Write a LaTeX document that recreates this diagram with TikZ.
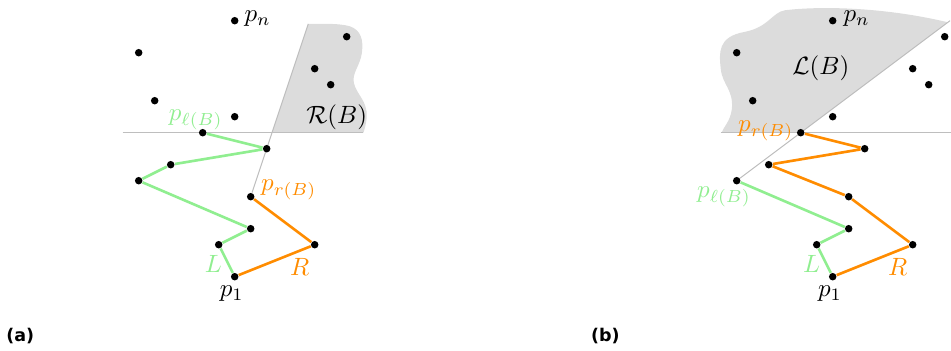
\documentclass[tikz,border=0pt]{standalone}
\usepackage{fontspec}
\newfontfamily\capfont{DejaVu Sans}
\usetikzlibrary{backgrounds}
\definecolor{lgreen}{RGB}{144,238,144}
\definecolor{dorange}{RGB}{255,140,0}
\definecolor{shadefill}{RGB}{220,220,220}
\definecolor{guidegray}{RGB}{190,190,190}
\begin{document}
\begin{tikzpicture}[x=0.4pt,y=-0.4pt,
  dot/.style={circle,fill=black,inner sep=0pt,minimum size=3pt},
  lchain/.style={draw=lgreen,line width=1.05pt,line join=round},
  rchain/.style={draw=dorange,line width=1.05pt,line join=round},
  guideline/.style={draw=guidegray,line width=0.4pt},
  region/.style={fill=shadefill},
  lbl/.style={inner sep=0pt,anchor=base west},
  lblc/.style={inner sep=0pt,anchor=base},
  caption/.style={inner sep=0pt,font=\capfont\bfseries\fontsize{7}{8}\selectfont}]
\useasboundingbox (0,0) rectangle (951,351);

% ---------------- (a) ----------------
\begin{scope}[shift={(138.7,20.7)},x=6.4pt,y=-6.4pt]
  \node[dot] (a1) at (6,16) {};
  \node[dot] (a2) at (5,14) {};
  \node[dot] (a3) at (7,13) {};
  \node[dot] (a4) at (0,10) {};
  \node[dot] (a5) at (2,9) {};
  \node[dot] (a6) at (8,8) {};
  \node[dot] (a7) at (4,7) {};
  \node[dot] (a8) at (6,6) {};
  \node[dot] (a9) at (1,5) {};
  \node[dot] (a10) at (0,2) {};
  \node[dot] (a11) at (6,0) {};
  \node[dot] (a12) at (7,11) {};
  \node[dot] (a13) at (11,14) {};
  \node[dot] (a14) at (13,1) {};
  \node[dot] (a15) at (11,3) {};
  \node[dot] (a16) at (12,4) {};
  \coordinate (atop) at (10.6,0.2);
  \coordinate (ahl) at (-1,7);
  \coordinate (ahr) at (14,7);
  \begin{scope}[on background layer]
    \fill[region] (8.333,7) -- (atop)
      .. controls (11.5,0.2) and (12.5,0.15) .. (13.2,0.35)
      .. controls (13.9,0.6) and (14.05,1.2) .. (13.95,2.0)
      .. controls (13.85,2.8) and (13.3,3.3) .. (13.45,3.9)
      .. controls (13.6,4.6) and (14.3,5.0) .. (14.25,6.0)
      .. controls (14.22,6.5) and (14.1,6.8) .. (14.05,7) -- cycle;
    \draw[guideline] (ahl) -- (ahr);
    \draw[guideline] (a12) -- (atop);
    \draw[lchain] (a1) -- (a2) -- (a3) -- (a4) -- (a5) -- (a6) -- (a7);
    \draw[rchain] (a1) -- (a13) -- (a12);
  \end{scope}
\end{scope}

\node[lbl] at (244,21.5) {$p_n$};
\node[lbl,text=lgreen] at (168.3,120.5) {$p_{\ell(B)}$};
\node[lbl,text=dorange] at (260.7,190.5) {$p_{r(B)}$};
\node[lblc,text=lgreen] at (213.3,272.7) {$L$};
\node[lblc,text=dorange] at (299.7,276) {$R$};
\node[lblc] at (231.8,297) {$p_1$};
\node[lblc] at (336.7,123.8) {$\mathcal{R}(B)$};
\node[caption] at (20.3,336.5) {(a)};

% ---------------- (b) ----------------
\begin{scope}[shift={(736.7,20.7)},x=6.4pt,y=-6.4pt]
  \node[dot] (b1) at (6,16) {};
  \node[dot] (b2) at (5,14) {};
  \node[dot] (b3) at (7,13) {};
  \node[dot] (b4) at (0,10) {};
  \node[dot] (b5) at (2,9) {};
  \node[dot] (b6) at (8,8) {};
  \node[dot] (b7) at (4,7) {};
  \node[dot] (b8) at (6,6) {};
  \node[dot] (b9) at (1,5) {};
  \node[dot] (b10) at (0,2) {};
  \node[dot] (b11) at (6,0) {};
  \node[dot] (b12) at (7,11) {};
  \node[dot] (b13) at (11,14) {};
  \node[dot] (b14) at (13,1) {};
  \node[dot] (b15) at (11,3) {};
  \node[dot] (b16) at (12,4) {};
  \coordinate (btop) at (13.333,0);
  \coordinate (bhl) at (-1,7);
  \coordinate (bhr) at (13.4,7);
  \begin{scope}[on background layer]
    \fill[region] (-0.95,7) -- (4,7) -- (13.2,0.1)
      .. controls (9,-0.9) and (5,-0.9) .. (3,-0.65)
      .. controls (2.2,-0.5) and (2.0,0.4) .. (0.5,0.7)
      .. controls (-1.2,1.0) and (-1.1,2.0) .. (-1.0,3.0)
      .. controls (-0.9,4.0) and (-0.2,4.3) .. (-0.3,5.5)
      .. controls (-0.4,6.3) and (-0.8,6.6) .. (-0.95,7) -- cycle;
    \draw[guideline] (bhl) -- (bhr);
    \draw[guideline] (b4) -- (btop);
    \draw[lchain] (b1) -- (b2) -- (b3) -- (b4);
    \draw[rchain] (b1) -- (b13) -- (b12) -- (b5) -- (b6) -- (b7);
  \end{scope}
\end{scope}

\node[lbl] at (843,21.5) {$p_n$};
\node[lblc] at (820.8,74.4) {$\mathcal{L}(B)$};
\node[lbl,text=dorange] at (737.7,131.5) {$p_{r(B)}$};
\node[lbl,text=lgreen] at (696.7,198) {$p_{\ell(B)}$};
\node[lblc,text=lgreen] at (811.7,272.7) {$L$};
\node[lblc,text=dorange] at (897.8,276) {$R$};
\node[lblc] at (830,297) {$p_1$};
\node[caption] at (605.3,336.5) {(b)};
\end{tikzpicture}
\end{document}
